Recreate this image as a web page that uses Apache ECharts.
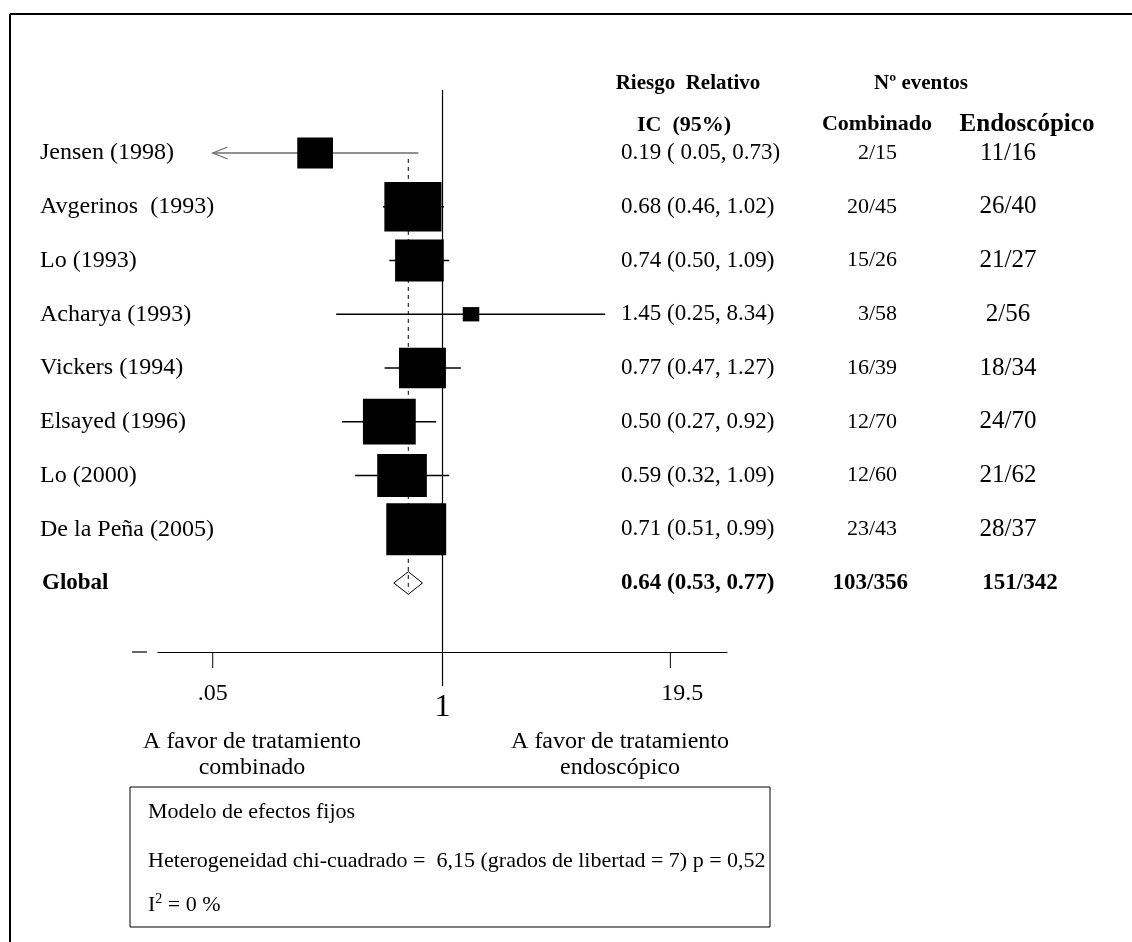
<!DOCTYPE html>
<html><head><meta charset="utf-8">
<script src="https://cdn.jsdelivr.net/npm/echarts@6/dist/echarts.min.js"></script>
<style>html,body{margin:0;padding:0;background:#fff}#c{width:1132px;height:942px}</style>
</head><body><div id="c"></div>
<script>
// ---------- data ----------
const studies = ['Jensen (1998)', 'Avgerinos  (1993)', 'Lo (1993)', 'Acharya (1993)', 'Vickers (1994)', 'Elsayed (1996)', 'Lo (2000)', 'De la Peña (2005)'];
const rr      = [0.19, 0.68, 0.74, 1.45, 0.77, 0.50, 0.59, 0.71];
const ciLow   = [0.05, 0.46, 0.50, 0.25, 0.47, 0.27, 0.32, 0.51];
const ciHigh  = [0.73, 1.02, 1.09, 8.34, 1.27, 0.92, 1.09, 0.99];
const weights = [7.0, 17.9, 13.0, 1.5, 12.1, 15.3, 13.5, 19.7];
const rrLabels = ['0.19 ( 0.05, 0.73)', '0.68 (0.46, 1.02)', '0.74 (0.50, 1.09)', '1.45 (0.25, 8.34)', '0.77 (0.47, 1.27)', '0.50 (0.27, 0.92)', '0.59 (0.32, 1.09)', '0.71 (0.51, 0.99)'];
const eventsComb = ['2/15', '20/45', '15/26', '3/58', '16/39', '12/70', '12/60', '23/43'];
const eventsEndo = ['11/16', '26/40', '21/27', '2/56', '18/34', '24/70', '21/62', '28/37'];
const pooledLabel = 'Global';
const pooledRR = 0.64, pooledLow = 0.53, pooledHigh = 0.77;
const pooledRRLabel = '0.64 (0.53, 0.77)';
const pooledComb = '103/356', pooledEndo = '151/342';
const xTicks = [0.05, 1, 19.5];
const xTickLabels = ['.05', '1', '19.5'];
const xRange = [0.0245, 40.8];

// ---------- layout ----------
const SERIF = "'Liberation Serif','Times New Roman',serif";
const L = v => Math.log10(v);
const yMin = -1.172, yMax = 9.284;

const chart = echarts.init(document.getElementById('c'));

const ciData = studies.map((s, i) => [L(ciLow[i]), L(ciHigh[i]), i, L(rr[i]), weights[i]]);
const tableData = studies.map((s, i) => [i, s, rrLabels[i], eventsComb[i], eventsEndo[i], 0]);
tableData.push([studies.length, pooledLabel, pooledRRLabel, pooledComb, pooledEndo, 1]);

function txt(x, y, text, size, opts) {
  opts = opts || {};
  return {
    type: 'text', x: x, y: y, silent: true,
    style: {
      text: text, fill: '#000',
      font: (opts.bold ? 'bold ' : '') + size + 'px ' + SERIF,
      align: opts.align || 'left', verticalAlign: 'middle'
    }
  };
}

const option = {
  animation: false,
  grid: { left: 158, width: 569, top: 90, height: 562 },
  xAxis: {
    type: 'value', min: L(xRange[0]), max: L(xRange[1]),
    axisLine: { show: true, onZero: false, lineStyle: { color: '#000', width: 1.2 } },
    axisTick: { show: false }, axisLabel: { show: false }, splitLine: { show: false }
  },
  yAxis: { type: 'value', inverse: true, min: yMin, max: yMax, show: false, splitLine: { show: false } },
  series: [
    { // reference line at 1 + x ticks + labels
      type: 'custom', silent: true, z: 1,
      data: xTicks.map((t, i) => [L(t), i]),
      renderItem: function (params, api) {
        const v = api.value(0), idx = api.value(1);
        const base = api.coord([v, yMax]);
        const children = [];
        const isOne = xTicks[idx] === 1;
        if (isOne) {
          const top = api.coord([v, yMin]);
          children.push({ type: 'line', shape: { x1: top[0], y1: top[1], x2: top[0], y2: base[1] + 34 }, style: { stroke: '#000', lineWidth: 1.2 } });
          children.push(txt(base[0], base[1] + 56, xTickLabels[idx], 32, { align: 'center' }));
        } else {
          children.push({ type: 'line', shape: { x1: base[0], y1: base[1], x2: base[0], y2: base[1] + 16 }, style: { stroke: '#000', lineWidth: 1 } });
          children.push(txt(base[0] + (idx === 0 ? 0 : 12), base[1] + 42, xTickLabels[idx], 24, { align: 'center' }));
        }
        return { type: 'group', children: children };
      }
    },
    { // pooled dashed line + diamond
      type: 'custom', silent: true, z: 2,
      data: [[L(pooledRR), L(pooledLow), L(pooledHigh), studies.length]],
      renderItem: function (params, api) {
        const m = api.value(0), lo = api.value(1), hi = api.value(2), r = api.value(3);
        const pTop = api.coord([m, 0.11]);
        const pBot = api.coord([m, r + 0.16]);
        const c = api.coord([m, r]);
        const l = api.coord([lo, r]);
        const h = api.coord([hi, r]);
        const half = api.size([0, 0.21])[1];
        return {
          type: 'group', children: [
            { type: 'polygon', shape: { points: [[l[0], c[1]], [c[0], c[1] - half], [h[0], c[1]], [c[0], c[1] + half]] }, style: { fill: '#fff', stroke: '#000', lineWidth: 1 } },
            { type: 'line', shape: { x1: pTop[0], y1: pTop[1], x2: pBot[0], y2: pBot[1] }, style: { stroke: '#000', lineWidth: 1, lineDash: [4, 4] } }
          ]
        };
      }
    },
    { // study CI lines and weighted boxes
      type: 'custom', silent: true, z: 3,
      data: ciData,
      renderItem: function (params, api) {
        const lo = api.value(0), hi = api.value(1), r = api.value(2), m = api.value(3), w = api.value(4);
        const a = api.coord([lo, r]), b = api.coord([hi, r]), c = api.coord([m, r]);
        const i = params.dataIndex;
        const col = i === 0 ? '#6e6e6e' : '#000';
        const children = [
          { type: 'line', shape: { x1: a[0], y1: a[1], x2: b[0], y2: b[1] }, style: { stroke: col, lineWidth: 1.3 } }
        ];
        if (ciLow[i] <= xTicks[0]) {
          children.push({ type: 'polyline', shape: { points: [[a[0] + 15, a[1] - 6], [a[0], a[1]], [a[0] + 15, a[1] + 6]] }, style: { stroke: col, lineWidth: 1.2, fill: null } });
        }
        const bw = 13.5 * Math.sqrt(w), bh = 11.7 * Math.sqrt(w);
        children.push({ type: 'rect', shape: { x: c[0] - bw / 2, y: c[1] - bh / 2, width: bw, height: bh }, style: { fill: '#000' } });
        return { type: 'group', children: children };
      }
    },
    { // table text
      type: 'custom', silent: true, z: 4,
      data: tableData,
      renderItem: function (params, api) {
        const r = api.value(0);
        const d = tableData[params.dataIndex];
        const y = api.coord([0, r])[1];
        const bold = d[5] === 1;
        if (bold) {
          return {
            type: 'group', children: [
              txt(42, y, d[1], 23, { bold: true }),
              txt(621, y, d[2], 23, { bold: true }),
              txt(908, y, d[3], 23, { bold: true, align: 'right' }),
              txt(1020, y, d[4], 23, { bold: true, align: 'center' })
            ]
          };
        }
        return {
          type: 'group', children: [
            txt(40, y, d[1], 24),
            txt(621, y, d[2], 23),
            txt(897, y, d[3], 22, { align: 'right' }),
            txt(1008, y, d[4], 25, { align: 'center' })
          ]
        };
      }
    }
  ],
  graphic: [
    // outer frame
    { type: 'line', shape: { x1: 10, y1: 14, x2: 1132, y2: 14 }, style: { stroke: '#000', lineWidth: 2 } },
    { type: 'line', shape: { x1: 10, y1: 14, x2: 10, y2: 942 }, style: { stroke: '#000', lineWidth: 2 } },
    // small dash left of axis
    { type: 'line', shape: { x1: 132, y1: 652, x2: 147, y2: 652 }, style: { stroke: '#000', lineWidth: 1.2 } },
    // headers
    txt(688, 84, 'Riesgo  Relativo', 21, { bold: true, align: 'center' }),
    txt(921, 84, 'Nº eventos', 21, { bold: true, align: 'center' }),
    txt(684, 125, 'IC  (95%)', 22, { bold: true, align: 'center' }),
    txt(877, 124, 'Combinado', 22, { bold: true, align: 'center' }),
    txt(1027, 125, 'Endoscópico', 25, { bold: true, align: 'center' }),
    // favour labels
    txt(252, 742, 'A favor de tratamiento', 24, { align: 'center' }),
    txt(252, 768, 'combinado', 24, { align: 'center' }),
    txt(620, 742, 'A favor de tratamiento', 24, { align: 'center' }),
    txt(620, 768, 'endoscópico', 24, { align: 'center' }),
    // bottom box
    { type: 'rect', shape: { x: 130, y: 787, width: 640, height: 140 }, style: { fill: 'none', stroke: '#000', lineWidth: 1 } },
    txt(148, 812, 'Modelo de efectos fijos', 22),
    txt(148, 861, 'Heterogeneidad chi-cuadrado =  6,15 (grados de libertad = 7) p = 0,52', 22),
    {
      type: 'text', x: 148, y: 905, silent: true,
      style: {
        text: 'I{sup|2} = 0 %', fill: '#000', font: '22px ' + SERIF, verticalAlign: 'middle',
        rich: { sup: { font: '14px ' + SERIF, verticalAlign: 'top', padding: [0, 0, 12, 0] } }
      }
    }
  ]
};
chart.setOption(option);
</script>
</body></html>
